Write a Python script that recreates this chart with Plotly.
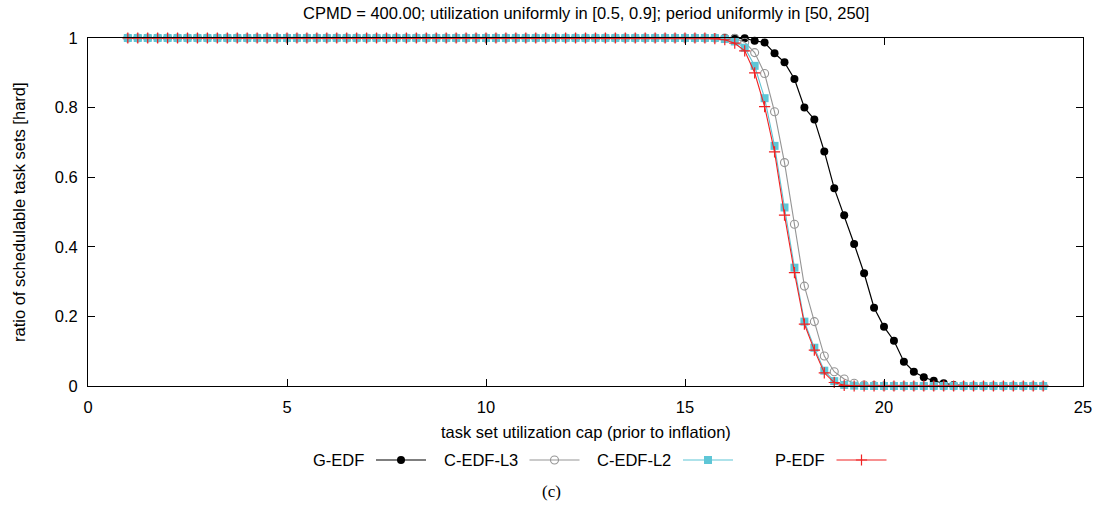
import plotly.graph_objects as go

W, H = 1103, 507

# ---------------- data ----------------
utilization_cap = [
    1.0, 1.25, 1.5, 1.75, 2.0, 2.25, 2.5, 2.75, 3.0, 3.25, 3.5, 3.75,
    4.0, 4.25, 4.5, 4.75, 5.0, 5.25, 5.5, 5.75, 6.0, 6.25, 6.5, 6.75,
    7.0, 7.25, 7.5, 7.75, 8.0, 8.25, 8.5, 8.75, 9.0, 9.25, 9.5, 9.75,
    10.0, 10.25, 10.5, 10.75, 11.0, 11.25, 11.5, 11.75, 12.0, 12.25, 12.5, 12.75,
    13.0, 13.25, 13.5, 13.75, 14.0, 14.25, 14.5, 14.75, 15.0, 15.25, 15.5, 15.75,
    16.0, 16.25, 16.5, 16.75, 17.0, 17.25, 17.5, 17.75, 18.0, 18.25, 18.5, 18.75,
    19.0, 19.25, 19.5, 19.75, 20.0, 20.25, 20.5, 20.75, 21.0, 21.25, 21.5, 21.75,
    22.0, 22.25, 22.5, 22.75, 23.0, 23.25, 23.5, 23.75, 24.0,
]

# x = 1.0 .. 15.75 (60 points) are all 1.0 for every series
g_edf = [
    1, 1, 1, 1, 1, 1, 1, 1, 1, 1, 1, 1,
    1, 1, 1, 1, 1, 1, 1, 1, 1, 1, 1, 1,
    1, 1, 1, 1, 1, 1, 1, 1, 1, 1, 1, 1,
    1, 1, 1, 1, 1, 1, 1, 1, 1, 1, 1, 1,
    1, 1, 1, 1, 1, 1, 1, 1, 1, 1, 1, 1,
    1.0, 1.0, 0.999, 0.992, 0.987, 0.956, 0.930, 0.882, 0.800, 0.766, 0.674, 0.568,
    0.491, 0.408, 0.324, 0.225, 0.170, 0.130, 0.070, 0.041, 0.025, 0.015, 0.008, 0.003,
    0.001, 0, 0, 0, 0, 0, 0, 0, 0,
]

c_edf_l3 = [
    1, 1, 1, 1, 1, 1, 1, 1, 1, 1, 1, 1,
    1, 1, 1, 1, 1, 1, 1, 1, 1, 1, 1, 1,
    1, 1, 1, 1, 1, 1, 1, 1, 1, 1, 1, 1,
    1, 1, 1, 1, 1, 1, 1, 1, 1, 1, 1, 1,
    1, 1, 1, 1, 1, 1, 1, 1, 1, 1, 1, 1,
    1.0, 0.999, 0.988, 0.958, 0.898, 0.788, 0.642, 0.465, 0.287, 0.185, 0.086, 0.041,
    0.020, 0.008, 0.003, 0.001, 0, 0, 0, 0, 0, 0, 0, 0,
    0, 0, 0, 0, 0, 0, 0, 0, 0,
]

c_edf_l2 = [
    1, 1, 1, 1, 1, 1, 1, 1, 1, 1, 1, 1,
    1, 1, 1, 1, 1, 1, 1, 1, 1, 1, 1, 1,
    1, 1, 1, 1, 1, 1, 1, 1, 1, 1, 1, 1,
    1, 1, 1, 1, 1, 1, 1, 1, 1, 1, 1, 1,
    1, 1, 1, 1, 1, 1, 1, 1, 1, 1, 1, 1,
    0.997, 0.990, 0.972, 0.920, 0.827, 0.690, 0.513, 0.340, 0.185, 0.110, 0.044, 0.014,
    0.003, 0.001, 0, 0, 0, 0, 0, 0, 0, 0, 0, 0,
    0, 0, 0, 0, 0, 0, 0, 0, 0,
]

p_edf = [
    1, 1, 1, 1, 1, 1, 1, 1, 1, 1, 1, 1,
    1, 1, 1, 1, 1, 1, 1, 1, 1, 1, 1, 1,
    1, 1, 1, 1, 1, 1, 1, 1, 1, 1, 1, 1,
    1, 1, 1, 1, 1, 1, 1, 1, 1, 1, 1, 1,
    1, 1, 1, 1, 1, 1, 1, 1, 1, 1, 1, 0.998,
    0.995, 0.985, 0.963, 0.900, 0.803, 0.673, 0.491, 0.326, 0.178, 0.103, 0.038, 0.010,
    0.002, 0, 0, 0, 0, 0, 0, 0, 0, 0, 0, 0,
    0, 0, 0, 0, 0, 0, 0, 0, 0,
]

series_names = ["G-EDF", "C-EDF-L3", "C-EDF-L2", "P-EDF"]
x_ticks = [0, 5, 10, 15, 20, 25]
y_ticks = [0, 0.2, 0.4, 0.6, 0.8, 1]
y_tick_text = ["0", "0.2", "0.4", "0.6", "0.8", "1"]

title_text = "CPMD = 400.00; utilization uniformly in [0.5, 0.9]; period uniformly in [50, 250]"
x_title = "task set utilization cap (prior to inflation)"
y_title = "ratio of schedulable task sets [hard]"
caption = "(c)"

# ---------------- styles ----------------
FONT = "Liberation Sans, Arial, Helvetica, sans-serif"
FS = 16.5
styles = {
    "G-EDF": dict(line=dict(color="#000000", width=1.2),
                  marker=dict(symbol="circle", size=8, color="#000000")),
    "C-EDF-L3": dict(line=dict(color="#959595", width=1.1),
                     marker=dict(symbol="circle-open", size=8, color="#959595",
                                 line=dict(width=1.1, color="#959595"))),
    "C-EDF-L2": dict(line=dict(color="#5ec6d6", width=1.1),
                     marker=dict(symbol="square", size=8, color="#5ec6d6")),
    "P-EDF": dict(line=dict(color="#f02222", width=1.1),
                  marker=dict(symbol="cross-thin", size=8, color="#f02222",
                              line=dict(width=1.2, color="#f02222"))),
}


def px_x(px):
    return px / W


def px_y(py):
    return 1 - py / H


# plot area in pixels
L, R, T, B = 88, 1083, 38, 386

fig = go.Figure()
values = {"G-EDF": g_edf, "C-EDF-L3": c_edf_l3, "C-EDF-L2": c_edf_l2, "P-EDF": p_edf}
for name in series_names:
    fig.add_trace(go.Scatter(
        x=utilization_cap, y=values[name], mode="lines+markers", name=name,
        showlegend=False, cliponaxis=False, **styles[name]))

# custom gnuplot-style legend (text then sample), drawn on a full-figure pixel axis
leg_y = 460
leg_line_starts = [376, 529.5, 683, 836.5]
leg_len = 50
for name, x0 in zip(series_names, leg_line_starts):
    st = styles[name]
    fig.add_trace(go.Scatter(
        x=[x0, x0 + leg_len], y=[leg_y, leg_y], mode="lines", line=st["line"],
        xaxis="x2", yaxis="y2", showlegend=False, cliponaxis=False, hoverinfo="skip"))
    fig.add_trace(go.Scatter(
        x=[x0 + leg_len / 2], y=[leg_y], mode="markers", marker=st["marker"],
        xaxis="x2", yaxis="y2", showlegend=False, cliponaxis=False, hoverinfo="skip"))
    fig.add_annotation(x=px_x(x0 - 10), y=px_y(leg_y), xref="paper", yref="paper",
                       text=name, showarrow=False, xanchor="right", yanchor="middle",
                       font=dict(family=FONT, size=FS, color="black"))

axis_common = dict(showline=True, linecolor="black", linewidth=1, mirror="allticks",
                   ticks="inside", ticklen=7, tickwidth=1, tickcolor="black",
                   showgrid=False, zeroline=False,
                   tickfont=dict(family=FONT, size=FS, color="black"))

fig.update_layout(
    width=W, height=H,
    margin=dict(l=0, r=0, t=0, b=0),
    paper_bgcolor="white", plot_bgcolor="rgba(0,0,0,0)",
    xaxis=dict(domain=[px_x(L), px_x(R)], range=[0, 25], tickvals=x_ticks,
               anchor="y", automargin=False, ticklabelstandoff=6, **axis_common),
    yaxis=dict(domain=[px_y(B), px_y(T)], range=[0, 1], tickvals=y_ticks,
               ticktext=y_tick_text, anchor="x", automargin=False,
               ticklabelstandoff=6, **axis_common),
    xaxis2=dict(domain=[0, 1], range=[0, W], visible=False, anchor="y2",
                fixedrange=True),
    yaxis2=dict(domain=[0, 1], range=[H, 0], visible=False, anchor="x2",
                fixedrange=True),
    showlegend=False,
)

fig.add_annotation(x=px_x((L + R) / 2), y=px_y(13), xref="paper", yref="paper",
                   text=title_text, showarrow=False, xanchor="center", yanchor="middle",
                   font=dict(family=FONT, size=FS, color="black"))
fig.add_annotation(x=px_x((L + R) / 2), y=px_y(432), xref="paper", yref="paper",
                   text=x_title, showarrow=False, xanchor="center", yanchor="middle",
                   font=dict(family=FONT, size=FS, color="black"))
fig.add_annotation(x=px_x(19), y=px_y((T + B) / 2), xref="paper", yref="paper",
                   text=y_title, showarrow=False, textangle=-90,
                   xanchor="center", yanchor="middle",
                   font=dict(family=FONT, size=FS, color="black"))
fig.add_annotation(x=px_x(551), y=px_y(491), xref="paper", yref="paper",
                   text=caption, showarrow=False, xanchor="center", yanchor="middle",
                   font=dict(family="Liberation Serif, Times New Roman, serif", size=17,
                             color="black"))

# remove the browser's default page margin so the figure sits at (0, 0)
fig.write_html("out.html", config={"displayModeBar": False},
               post_script="document.body.style.margin='0';document.body.style.padding='0';")
